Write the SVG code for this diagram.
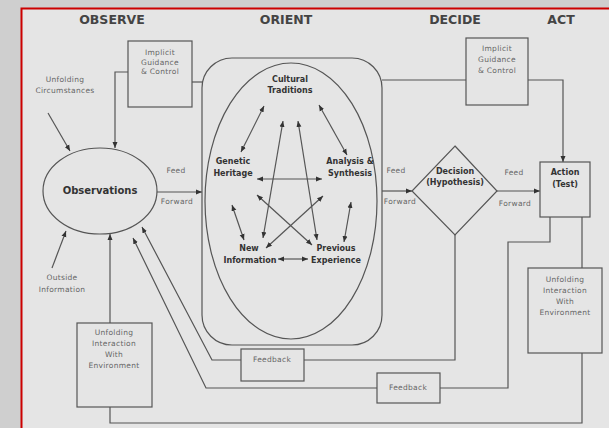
<svg xmlns="http://www.w3.org/2000/svg" width="609" height="428" viewBox="0 0 609 428">
<style>
.ln{fill:none;stroke:#555;stroke-width:1.2}
.bx{fill:none;stroke:#555;stroke-width:1.2}
.t{font-family:"DejaVu Sans",sans-serif;fill:#666;font-size:7.5px;letter-spacing:0.3px;text-anchor:middle}
.b{font-family:"DejaVu Sans",sans-serif;fill:#333;font-size:8px;font-weight:bold;text-anchor:middle}
.h{font-family:"DejaVu Sans",sans-serif;fill:#444;font-size:12.5px;font-weight:bold;text-anchor:middle}
.a{marker-end:url(#ah)}
.d{marker-start:url(#ah);marker-end:url(#ah)}
</style>
<defs>
<marker id="ah" viewBox="0 0 6 6" refX="6" refY="3" markerWidth="6" markerHeight="6" markerUnits="userSpaceOnUse" orient="auto-start-reverse"><path d="M0,0.5 L6,3 L0,5.5 z" fill="#333"/></marker>
</defs>
<rect width="609" height="428" fill="#cfcfcf"/>
<rect x="21" y="8" width="588" height="420" fill="#e5e5e5"/>
<path d="M21.5,428 V8.5 H609" fill="none" stroke="#c00" stroke-width="2"/>

<g id="titles">
<text class="h" x="112" y="24">OBSERVE</text>
<text class="h" x="286" y="24">ORIENT</text>
<text class="h" x="455" y="24">DECIDE</text>
<text class="h" x="561" y="24">ACT</text>
</g>

<g id="connectors">
<path class="ln a" d="M128,72 H115 V148"/>
<path class="ln" d="M192,82 H202"/>
<path class="ln" d="M382,80 H466"/>
<path class="ln a" d="M528,80 H563 V162"/>
<path class="ln a" d="M48,113 L70,151"/>
<path class="ln a" d="M52,268 L66,231"/>
<path class="ln a" d="M110,323 V234"/>
<path class="ln a" d="M157,192 H202"/>
<path class="ln a" d="M382,191 H412"/>
<path class="ln a" d="M497,191 H540"/>
<path class="ln" d="M582,217 V268"/>
<path class="ln" d="M110,407 V423 H582 V353"/>
<path class="ln" d="M550,217 V242 H508 V388 H440"/>
<path class="ln a" d="M377,388 H206 L133,238"/>
<path class="ln" d="M455,235 V360 H304"/>
<path class="ln a" d="M241,360 H212 L142,227"/>
<path class="ln d" d="M257,179 H322"/>
<path class="ln d" d="M278,259 H308"/>
<path class="ln d" d="M264,106 L241,152"/>
<path class="ln d" d="M319,105 L347,155"/>
<path class="ln d" d="M283,121 L263,238"/>
<path class="ln d" d="M298,121 L317,240"/>
<path class="ln d" d="M232,205 L244,240"/>
<path class="ln d" d="M351,202 L344,242"/>
<path class="ln d" d="M257,195 L312,245"/>
<path class="ln d" d="M266,248 L323,196"/>
</g>

<g id="labels">
<text class="t" x="176" y="173">Feed</text>
<text class="t" x="177" y="204">Forward</text>
<text class="t" x="396" y="173">Feed</text>
<text class="t" x="400" y="204">Forward</text>
<text class="t" x="514" y="175">Feed</text>
<text class="t" x="515" y="206">Forward</text>
</g>

<g id="unfolding-circumstances">
<text class="t" x="65" y="82">Unfolding</text>
<text class="t" x="65" y="93">Circumstances</text>
</g>
<g id="outside-information">
<text class="t" x="62" y="280">Outside</text>
<text class="t" x="62" y="292">Information</text>
</g>
<g id="observations">
<ellipse class="bx" cx="100" cy="191" rx="57" ry="43"/>
<text class="b" x="100" y="194" style="font-size:10px">Observations</text>
</g>
<g id="implicit-observe">
<rect class="bx" x="128" y="41" width="64" height="66"/>
<text class="t" x="160" y="55">Implicit</text>
<text class="t" x="160" y="65">Guidance</text>
<text class="t" x="160" y="74">&amp; Control</text>
</g>
<g id="unfolding-left">
<rect class="bx" x="77" y="323" width="75" height="84"/>
<text class="t" x="114" y="335">Unfolding</text>
<text class="t" x="114" y="346">Interaction</text>
<text class="t" x="114" y="357">With</text>
<text class="t" x="114" y="368">Environment</text>
</g>
<g id="orient">
<rect class="bx" x="202" y="58" width="180" height="287" rx="30"/>
<ellipse class="bx" cx="291" cy="201" rx="86" ry="138"/>
</g>
<g id="cultural">
<text class="b" x="290" y="82">Cultural</text>
<text class="b" x="290" y="93">Traditions</text>
</g>
<g id="genetic">
<text class="b" x="233" y="164">Genetic</text>
<text class="b" x="233" y="176">Heritage</text>
</g>
<g id="analysis">
<text class="b" x="350" y="164">Analysis &amp;</text>
<text class="b" x="350" y="176">Synthesis</text>
</g>
<g id="new-information">
<text class="b" x="249" y="251">New</text>
<text class="b" x="250" y="263">Information</text>
</g>
<g id="previous-experience">
<text class="b" x="336" y="251">Previous</text>
<text class="b" x="336" y="263">Experience</text>
</g>
<g id="implicit-decide">
<rect class="bx" x="466" y="38" width="62" height="67"/>
<text class="t" x="497" y="51">Implicit</text>
<text class="t" x="497" y="62">Guidance</text>
<text class="t" x="497" y="73">&amp; Control</text>
</g>
<g id="decision">
<polygon class="bx" points="455,146 497,191 455,235 412,191"/>
<text class="b" x="455" y="174">Decision</text>
<text class="b" x="455" y="185">(Hypothesis)</text>
</g>
<g id="action">
<rect class="bx" x="540" y="162" width="50" height="55"/>
<text class="b" x="565" y="175">Action</text>
<text class="b" x="565" y="187">(Test)</text>
</g>
<g id="unfolding-right">
<rect class="bx" x="528" y="268" width="74" height="85"/>
<text class="t" x="565" y="282">Unfolding</text>
<text class="t" x="565" y="293">Interaction</text>
<text class="t" x="565" y="304">With</text>
<text class="t" x="565" y="315">Environment</text>
</g>
<g id="feedback-upper">
<rect class="bx" x="241" y="349" width="63" height="32"/>
<text class="t" x="272" y="362">Feedback</text>
</g>
<g id="feedback-lower">
<rect class="bx" x="377" y="373" width="63" height="30"/>
<text class="t" x="408" y="390">Feedback</text>
</g>
</svg>
